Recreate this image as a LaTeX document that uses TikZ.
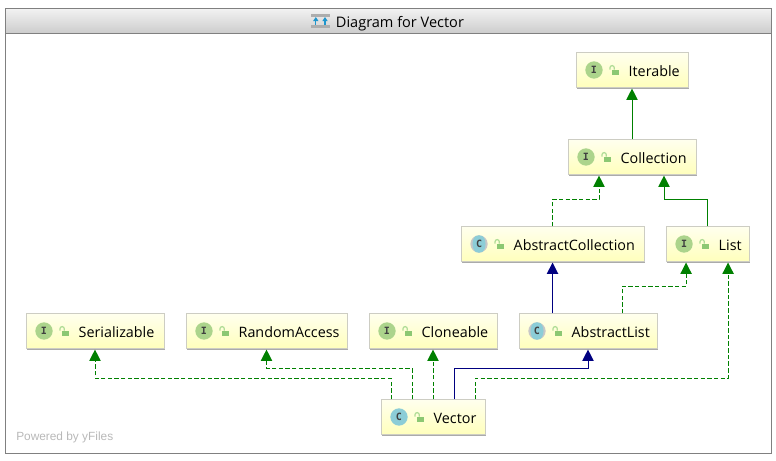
\documentclass[tikz,border=0pt]{standalone}
\usepackage{fontspec}
\setmainfont{Open Sans}
\newfontfamily\badgefont{DejaVu Sans Mono}
\newfontfamily\yfont{Liberation Sans}
\usetikzlibrary{
  arrows.meta,
  positioning,
  shadows
}
\definecolor{FrameGray}{RGB}{128,128,128}
\definecolor{BoxEdge}{RGB}{205,205,195}
\definecolor{BoxTop}{RGB}{255,255,238}
\definecolor{BoxBottom}{RGB}{255,255,188}
\definecolor{IfaceGreen}{RGB}{172,212,140}
\definecolor{ClassTeal}{RGB}{140,205,215}
\definecolor{LockGreen}{RGB}{140,200,115}
\definecolor{ShackleGreen}{RGB}{175,220,150}
\definecolor{InheritGreen}{RGB}{0,128,0}
\definecolor{InheritBlue}{RGB}{0,0,128}
\definecolor{HeaderBlue}{RGB}{30,150,205}
\tikzset{
  classbox/.style={draw=BoxEdge,top color=BoxTop,bottom color=BoxBottom,line width=.5pt,text width=#1,minimum height=26.25pt,inner xsep=0pt,inner ysep=0pt,outer sep=0pt,text height=9.5pt,text depth=0pt,align=left,font=\fontsize{10.75}{12}\selectfont,drop shadow={shadow xshift=.9pt,shadow yshift=-.9pt,opacity=.55,fill=black!60},execute at begin node=\hspace*{39.5pt}},
  ifacebadge/.style={circle,fill=IfaceGreen,minimum size=13pt,inner sep=0pt,text=black!75,font=\badgefont\bfseries\fontsize{7.5}{8}\selectfont},
  classbadge/.style={circle,fill=ClassTeal,minimum size=13pt,inner sep=0pt,text=black!75,font=\badgefont\bfseries\fontsize{7.5}{8}\selectfont},
  abstractbadge/.style={classbadge,fill=black!22,path picture={\fill[ClassTeal] (path picture bounding box.center) ellipse[x radius=4.9pt,y radius=7pt];}},
  padlock/.pic={
    \draw[ShackleGreen,line width=.9pt] (-3pt,.2pt) -- (-3pt,1.7pt) arc[start angle=180,end angle=0,radius=1.6pt] -- (.2pt,.2pt);
    \fill[LockGreen] (-1.4pt,-3.7pt) rectangle (3.7pt,.2pt);
  },
  implarrow/.style={-{Triangle[length=8.5pt,width=8.5pt]},dashed,dash pattern=on 3.3pt off 1.7pt,line width=.75pt,draw=InheritGreen,shorten >=.8pt},
  extendarrow/.style={-{Triangle[length=8.5pt,width=8.5pt]},line width=.75pt,draw=InheritGreen,shorten >=.8pt},
  classarrow/.style={-{Triangle[length=8.5pt,width=8.5pt]},line width=.75pt,draw=InheritBlue,shorten >=.8pt},
  framebox/.style={draw=FrameGray,line width=.8pt,inner sep=0pt,anchor=north west},
  headerbar/.style={framebox,top color=black!5,bottom color=black!20},
  headerbars/.style={fill=black!32},
  headerarrow/.style={-{Triangle[length=3pt,width=3.8pt]},draw=HeaderBlue,line width=.8pt}
}
\begin{document}
\begin{tikzpicture}[node distance=38.5pt and 16.5pt]
\useasboundingbox (0,0) rectangle (582pt,345.75pt);
\node[framebox,minimum width=574.5pt,minimum height=333.75pt] (panel) at (3.75pt,339.75pt) {};
\node[headerbar,minimum width=574.5pt,minimum height=18.75pt] (header) at (panel.north west) {};
\node[right=0pt of header.west,xshift=248pt,font=\fontsize{10.9}{12}\selectfont,inner sep=0pt,text height=9.5pt,text depth=0pt] (title) {Diagram for Vector};
\node[left=4.5pt of title,minimum width=13.5pt,minimum height=10pt,inner sep=0pt] (titleicon) {};
\fill[headerbars] (titleicon.north west) rectangle ([yshift=-2.4pt]titleicon.north east);
\fill[headerbars] (titleicon.south west) rectangle ([yshift=2.4pt]titleicon.south east);
\draw[headerarrow] ([xshift=3.5pt,yshift=2.4pt]titleicon.south west) -- ([xshift=3.5pt,yshift=-2.2pt]titleicon.north west);
\draw[headerarrow] ([xshift=-3.5pt,yshift=2.4pt]titleicon.south east) -- ([xshift=-3.5pt,yshift=-2.2pt]titleicon.north east);
\node[classbox=78pt] (vector) at (324.75pt,33pt) {Vector};
\node[classbox=96pt,above=38.25pt of vector] (cloneable) {Cloneable};
\node[classbox=120.75pt,left=of cloneable] (random) {RandomAccess};
\node[classbox=103.5pt,left=of random] (serial) {Serializable};
\node[classbox=103.5pt,right=of cloneable] (abslist) {AbstractList};
\node[classbox=137.25pt,above=39pt of abslist,xshift=-26.6pt] (abscoll) {AbstractCollection};
\node[classbox=62.25pt,right=of abscoll] (list) {List};
\node[classbox=96pt,above=39pt of abscoll,xshift=59.6pt] (coll) {Collection};
\node[classbox=84pt,above=39pt of coll] (iter) {Iterable};
\node[ifacebadge] (serialicon) at ([xshift=13.5pt]serial.west) {I};
\pic at ([xshift=28.5pt]serial.west) {padlock};
\node[ifacebadge] (randomicon) at ([xshift=13.5pt]random.west) {I};
\pic at ([xshift=28.5pt]random.west) {padlock};
\node[ifacebadge] (cloneicon) at ([xshift=13.5pt]cloneable.west) {I};
\pic at ([xshift=28.5pt]cloneable.west) {padlock};
\node[abstractbadge] (abslisticon) at ([xshift=13.5pt]abslist.west) {C};
\pic at ([xshift=28.5pt]abslist.west) {padlock};
\node[abstractbadge] (abscollicon) at ([xshift=13.5pt]abscoll.west) {C};
\pic at ([xshift=28.5pt]abscoll.west) {padlock};
\node[ifacebadge] (listicon) at ([xshift=13.5pt]list.west) {I};
\pic at ([xshift=28.5pt]list.west) {padlock};
\node[ifacebadge] (collicon) at ([xshift=13.5pt]coll.west) {I};
\pic at ([xshift=28.5pt]coll.west) {padlock};
\node[ifacebadge] (itericon) at ([xshift=13.5pt]iter.west) {I};
\pic at ([xshift=28.5pt]iter.west) {padlock};
\node[classbadge] (vectoricon) at ([xshift=13.5pt]vector.west) {C};
\pic at ([xshift=28.5pt]vector.west) {padlock};
\draw[extendarrow] (coll.north) -- (iter.south);
\draw[implarrow] (abscoll.north) -- ++(0,20.25pt) -| ([xshift=-24.75pt]coll.south);
\draw[extendarrow] (list.north) -- ++(0,20.25pt) -| ([xshift=24pt]coll.south);
\draw[classarrow] (abslist.north -| abscoll.south) -- (abscoll.south);
\draw[implarrow] ([xshift=25.5pt]abslist.north) -- ++(0,20.25pt) -| ([xshift=-16.1pt]list.south);
\draw[implarrow] (vector.north) -- (cloneable.south);
\draw[implarrow] ([xshift=-15.75pt]vector.north) -- ++(0,23.25pt) -| (random.south);
\draw[implarrow] ([xshift=-31.5pt]vector.north) -- ++(0,15.75pt) -| (serial.south);
\draw[classarrow] ([xshift=15.75pt]vector.north) -- ++(0,23.25pt) -| (abslist.south);
\draw[implarrow] ([xshift=31.5pt]vector.north) -- ++(0,15.75pt) -| ([xshift=15.4pt]list.south);
\node[anchor=west,inner sep=0pt,text=black!28,font=\yfont\fontsize{8.9}{10}\selectfont] (powered) at (12pt,17.75pt) {Powered by yFiles};
\end{tikzpicture}
\end{document}
